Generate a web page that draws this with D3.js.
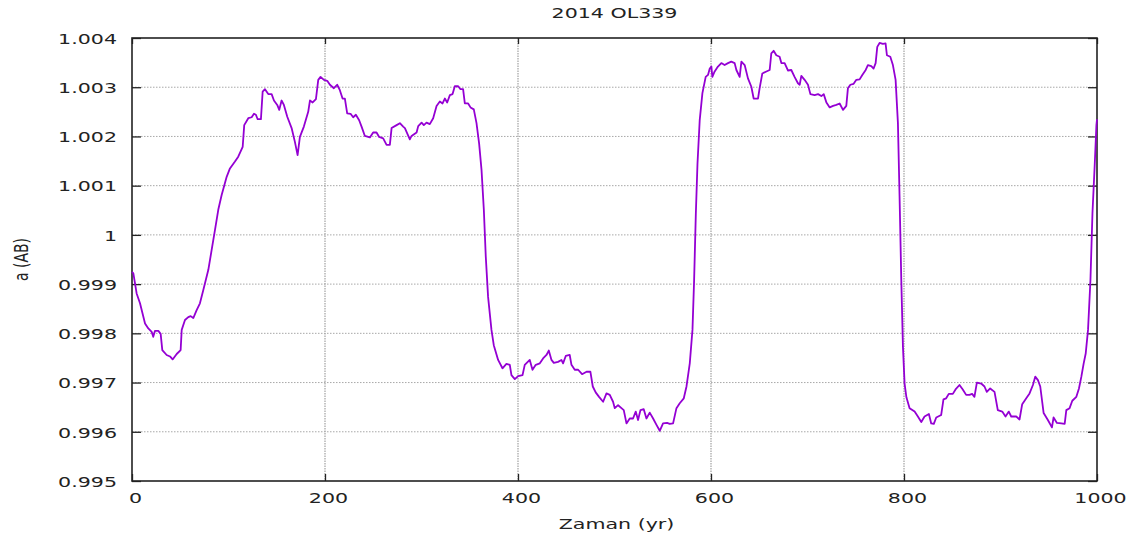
<!DOCTYPE html>
<html>
<head>
<meta charset="utf-8">
<script src="https://cdn.jsdelivr.net/npm/d3@7"></script>
<style>
  html, body { margin: 0; padding: 0; background: #fff; }
  svg { display: block; }
  text { font-family: "DejaVu Sans", sans-serif; fill: #222; }
</style>
</head>
<body>
<svg id="chart" width="1138" height="539"></svg>
<script>
// Semi-major axis of 2014 OL339 over 1000 years
const chartTitle = "2014 OL339";
const xLabel = "Zaman (yr)";
const yLabel = "a (AB)";

const years = [
  0, 1.4, 4.8, 8.3, 13.5, 16.9, 20.4, 22, 23.8, 27.3, 29.7, 31.4, 35.9, 39.4, 42.1, 46.3, 50.4, 51.5, 54.9, 58.3,
  60.8, 63.5, 67, 70.4, 73.9, 79.1, 82.5, 86, 89.4, 92.9, 98.1, 101.5, 106.7, 110.1, 114.7, 116.3, 120.5, 124, 126.4, 128.4,
  130.2, 133.6, 135.4, 137.8, 141.2, 144.7, 147.1, 150.5, 152.6, 155, 157.4, 160.9, 165.4, 168.8, 171.6, 174, 178.1, 182.6, 184.4, 187.2,
  190.6, 193, 195.4, 198.9, 202.3, 205.1, 209.2, 212.6, 215.4, 218.2, 220.6, 223, 226.5, 229.2, 232, 235.4, 237.9, 241.3, 246.5, 249.9,
  253.4, 256.1, 260.3, 263.8, 267.2, 269, 274.2, 277.6, 281, 282.8, 287.9, 289.7, 294.9, 296.6, 300.1, 302.4, 305.2, 308.6, 312.1, 315.6,
  319, 321.8, 324.2, 326.6, 329.4, 332.2, 334.5, 338, 340.4, 343.1, 344.9, 348.3, 350.8, 354.2, 357, 359.7, 362.2, 364.6, 366.6, 369,
  372.5, 374.9, 379.4, 383.9, 388, 391.5, 393.2, 396.7, 400.1, 404.7, 407, 412.2, 415, 418.4, 422.6, 426, 429.5, 431.9, 434.7, 437.1,
  441.5, 445, 446.7, 449.5, 453.6, 455.4, 458.8, 462.3, 466.4, 471, 475, 477.5, 480.5, 484, 488.2, 491.7, 495.1, 498.5, 500.3, 503.7,
  507.2, 509.6, 512.4, 515.8, 519.2, 522, 524.4, 526.9, 530.3, 533.1, 536.5, 540, 543.5, 546.9, 550.3, 554.5, 557.2, 560.7, 564.2, 567.6,
  571.8, 574.6, 578, 580.8, 582.5, 584.3, 586, 588.3, 591.1, 594.5, 596.9, 598.7, 600.4, 601.4, 603.8, 607.2, 610.7, 614.1, 617.6, 621,
  624.5, 626.3, 629.7, 631.5, 634.9, 638.3, 641.8, 644.2, 648.7, 650.4, 653.2, 657.4, 660.8, 662.5, 664.9, 667.7, 671.1, 672.9, 676.3, 679.7,
  683.2, 686.6, 690.1, 691.9, 693.6, 697, 700.5, 703, 707.4, 710.9, 714.4, 716.8, 719.6, 723, 726.5, 729.9, 733.3, 736.8, 740.2, 741.9,
  744.4, 747.8, 750.6, 754, 756.8, 760.3, 762.6, 766.1, 768.5, 770.6, 772.3, 774.7, 778.1, 780.9, 782.3, 785.8, 788.5, 791.3, 793.7, 795.4,
  797.2, 798.9, 800.6, 802.5, 805.8, 811, 814.4, 817.9, 821.3, 825.8, 828.2, 830.9, 833.4, 838.5, 840.9, 843.7, 846.4, 850.6, 853.4, 857.5,
  860.9, 864.4, 867.8, 870.6, 873, 875.5, 880, 883.4, 885.8, 889.3, 893.8, 897.2, 901.8, 905.2, 908.6, 911.1, 916.3, 919.7, 922.5, 926.7,
  930.1, 933.6, 936, 938.8, 941.2, 944.7, 949.1, 953.3, 955, 958.5, 963, 966.5, 968.2, 971.6, 974.4, 978.6, 981.3, 983.8, 986.2, 988.3,
  990.7, 993.2, 995.3, 997.7, 999.4, 1000
];

const semiMajor = [
  0.99925, 0.99922, 0.99881, 0.99861, 0.99820, 0.99810, 0.99803, 0.99793, 0.99805, 0.99805, 0.99799, 0.99766, 0.99756, 0.99753, 0.99747, 0.99758, 0.99766, 0.99807, 0.99827, 0.99833,
  0.99835, 0.99831, 0.99847, 0.99861, 0.99888, 0.99929, 0.99969, 1.00010, 1.00051, 1.00081, 1.00118, 1.00135, 1.00149, 1.00159, 1.00179, 1.00223, 1.00237, 1.00239, 1.00246, 1.00244,
  1.00235, 1.00235, 1.00291, 1.00296, 1.00286, 1.00286, 1.00273, 1.00264, 1.00254, 1.00273, 1.00264, 1.00240, 1.00217, 1.00189, 1.00162, 1.00199, 1.00220, 1.00250, 1.00273, 1.00269,
  1.00276, 1.00315, 1.00321, 1.00315, 1.00313, 1.00305, 1.00298, 1.00305, 1.00294, 1.00277, 1.00277, 1.00247, 1.00246, 1.00239, 1.00244, 1.00233, 1.00220, 1.00201, 1.00198, 1.00208,
  1.00208, 1.00199, 1.00196, 1.00183, 1.00183, 1.00217, 1.00223, 1.00227, 1.00220, 1.00217, 1.00194, 1.00201, 1.00208, 1.00221, 1.00228, 1.00223, 1.00228, 1.00225, 1.00237, 1.00262,
  1.00271, 1.00267, 1.00277, 1.00269, 1.00284, 1.00286, 1.00302, 1.00302, 1.00296, 1.00296, 1.00267, 1.00267, 1.00259, 1.00255, 1.00227, 1.00186, 1.00132, 1.00051, 0.99956, 0.99874,
  0.99807, 0.99776, 0.99746, 0.99729, 0.99738, 0.99736, 0.99715, 0.99707, 0.99713, 0.99715, 0.99736, 0.99746, 0.99726, 0.99736, 0.99739, 0.99749, 0.99756, 0.99765, 0.99746, 0.99740,
  0.99742, 0.99746, 0.99739, 0.99754, 0.99756, 0.99736, 0.99726, 0.99726, 0.99717, 0.99722, 0.99722, 0.99692, 0.99680, 0.99671, 0.99661, 0.99678, 0.99675, 0.99661, 0.99648, 0.99654,
  0.99648, 0.99644, 0.99617, 0.99627, 0.99627, 0.99641, 0.99624, 0.99644, 0.99646, 0.99627, 0.99639, 0.99627, 0.99614, 0.99602, 0.99617, 0.99618, 0.99616, 0.99617, 0.99648, 0.99658,
  0.99668, 0.99692, 0.99739, 0.99807, 0.99908, 1.00044, 1.00145, 1.00233, 1.00288, 1.00321, 1.00325, 1.00338, 1.00342, 1.00321, 1.00332, 1.00342, 1.00349, 1.00345, 1.00349, 1.00352,
  1.00349, 1.00335, 1.00321, 1.00352, 1.00345, 1.00318, 1.00301, 1.00277, 1.00277, 1.00298, 1.00328, 1.00332, 1.00335, 1.00369, 1.00374, 1.00365, 1.00362, 1.00349, 1.00349, 1.00334,
  1.00335, 1.00321, 1.00308, 1.00305, 1.00323, 1.00315, 1.00305, 1.00286, 1.00284, 1.00286, 1.00282, 1.00286, 1.00269, 1.00259, 1.00262, 1.00264, 1.00267, 1.00254, 1.00262, 1.00298,
  1.00305, 1.00307, 1.00315, 1.00316, 1.00325, 1.00335, 1.00345, 1.00343, 1.00338, 1.00349, 1.00382, 1.00390, 1.00388, 1.00389, 1.00365, 1.00362, 1.00345, 1.00315, 1.00227, 1.00078,
  0.99908, 0.99773, 0.99698, 0.99670, 0.99648, 0.99641, 0.99631, 0.99620, 0.99631, 0.99636, 0.99617, 0.99616, 0.99629, 0.99634, 0.99666, 0.99668, 0.99677, 0.99677, 0.99686, 0.99695,
  0.99686, 0.99675, 0.99675, 0.99677, 0.99671, 0.99700, 0.99698, 0.99692, 0.99681, 0.99688, 0.99681, 0.99644, 0.99641, 0.99631, 0.99641, 0.99631, 0.99631, 0.99625, 0.99656, 0.99668,
  0.99678, 0.99695, 0.99712, 0.99705, 0.99692, 0.99638, 0.99624, 0.99609, 0.99629, 0.99618, 0.99617, 0.99616, 0.99644, 0.99648, 0.99663, 0.99671, 0.99688, 0.99712, 0.99739, 0.99759,
  0.99807, 0.99908, 1.00044, 1.00145, 1.00223, 1.00235
];

const xTicks = [0, 200, 400, 600, 800, 1000];
const yTicks = [0.995, 0.996, 0.997, 0.998, 0.999, 1.000, 1.001, 1.002, 1.003, 1.004];
const yTickLabels = ["0.995", "0.996", "0.997", "0.998", "0.999", "1", "1.001", "1.002", "1.003", "1.004"];

// Layout
const W = 1138, H = 539;
const plot = { left: 132, right: 1097, top: 38, bottom: 481 };
const textStretch = 1.42;   // wide lettering
const fontSize = 14.5;

const svg = d3.select("#chart");

const x = d3.scaleLinear().domain([0, 1000]).range([plot.left, plot.right]);
const y = d3.scaleLinear().domain([0.995, 1.004]).range([plot.bottom, plot.top]);

// Grid lines
const grid = svg.append("g").attr("class", "grid");
grid.selectAll("line.hgrid")
  .data(yTicks.slice(1, -1))
  .join("line")
  .attr("x1", plot.left).attr("x2", plot.right)
  .attr("y1", d => y(d)).attr("y2", d => y(d))
  .attr("stroke", "#a8a8a8").attr("stroke-width", 1)
  .attr("stroke-dasharray", "1.5,1.5");
grid.selectAll("line.vgrid")
  .data(xTicks.slice(1, -1))
  .join("line")
  .attr("x1", d => x(d)).attr("x2", d => x(d))
  .attr("y1", plot.top).attr("y2", plot.bottom)
  .attr("stroke", "#a8a8a8").attr("stroke-width", 1.3)
  .attr("stroke-dasharray", "1.5,1");

// Axes with inward ticks, mirrored on all four sides
function styleAxis(g) {
  g.select(".domain").remove();
  g.selectAll(".tick line").attr("stroke", "#222").attr("stroke-width", 1.3);
}

const leftAxis = svg.append("g")
  .attr("transform", `translate(${plot.left},0)`)
  .call(d3.axisLeft(y).tickValues(yTicks).tickSize(-9)
    .tickFormat((d, i) => yTickLabels[i]));
styleAxis(leftAxis);
leftAxis.selectAll(".tick text")
  .attr("x", -15 / textStretch)
  .attr("dy", "0.36em")
  .attr("transform", `scale(${textStretch},1)`)
  .style("font-size", fontSize + "px")
  .style("font-family", "DejaVu Sans")
  .attr("fill", "#222");

const rightAxis = svg.append("g")
  .attr("transform", `translate(${plot.right},0)`)
  .call(d3.axisRight(y).tickValues(yTicks).tickSize(-9).tickFormat(""));
styleAxis(rightAxis);

const bottomAxis = svg.append("g")
  .attr("transform", `translate(0,${plot.bottom})`)
  .call(d3.axisBottom(x).tickValues(xTicks).tickSize(-7).tickFormat(d3.format("d")));
styleAxis(bottomAxis);
bottomAxis.selectAll(".tick text")
  .attr("x", 3 / textStretch)
  .attr("y", 22)
  .attr("dy", 0)
  .attr("transform", `scale(${textStretch},1)`)
  .style("font-size", fontSize + "px")
  .style("font-family", "DejaVu Sans")
  .attr("fill", "#222");

const topAxis = svg.append("g")
  .attr("transform", `translate(0,${plot.top})`)
  .call(d3.axisTop(x).tickValues(xTicks).tickSize(-6).tickFormat(""));
styleAxis(topAxis);

// Frame
svg.append("rect")
  .attr("x", plot.left).attr("y", plot.top)
  .attr("width", plot.right - plot.left).attr("height", plot.bottom - plot.top)
  .attr("fill", "none").attr("stroke", "#222").attr("stroke-width", 1.6);

// Series line
const series = years.map((t, i) => [t, semiMajor[i]]);
svg.append("path")
  .datum(series)
  .attr("fill", "none")
  .attr("stroke", "#9400d3")
  .attr("stroke-width", 1.8)
  .attr("stroke-linejoin", "round")
  .attr("d", d3.line().x(d => x(d[0])).y(d => y(d[1])));

// Titles
function stretchedText(cx, baseline, str) {
  svg.append("text")
    .attr("transform", `translate(${cx},${baseline}) scale(${textStretch},1)`)
    .attr("text-anchor", "middle")
    .style("font-size", fontSize + "px")
    .text(str);
}
stretchedText((plot.left + plot.right) / 2, 18, chartTitle);
stretchedText((plot.left + plot.right) / 2 + 2, 529, xLabel);

// Rotated label; the local y axis runs horizontally after the rotation
svg.append("text")
  .attr("transform", `translate(28,${(plot.top + plot.bottom) / 2}) rotate(-90) scale(1,1.35)`)
  .attr("text-anchor", "middle")
  .style("font-size", "14px")
  .text(yLabel);
</script>
</body>
</html>
